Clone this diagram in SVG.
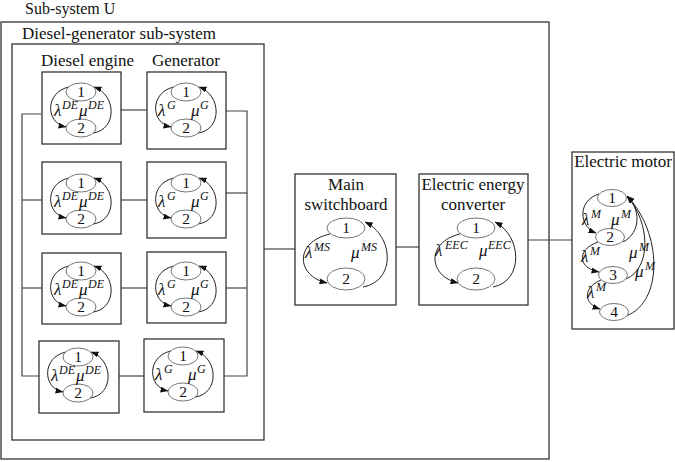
<svg xmlns="http://www.w3.org/2000/svg" xmlns:xlink="http://www.w3.org/1999/xlink" width="675" height="462" viewBox="0 0 675 462">
<style>
.box{fill:none;stroke:#333;stroke-width:1.3}
.st{fill:#fff;stroke:#777;stroke-width:1}
.arc{fill:none;stroke:#222;stroke-width:1}
.ln{fill:none;stroke:#444;stroke-width:1.2}
text{font-family:"Liberation Serif","Times New Roman",serif;fill:#111}
.hd{font-size:17px}
.n{font-size:15.5px;text-anchor:middle}
.g{font-size:17px;font-style:italic}
.sp{font-size:12px;font-style:italic}
</style>
<defs>
<marker id="ah" markerUnits="userSpaceOnUse" markerWidth="8" markerHeight="6" refX="7.5" refY="3" orient="auto">
<path d="M0,0 L8,3 L0,6 z" fill="#111"/>
</marker>
<g id="sm">
<path class="arc" d="M-12,-5 C-36,0 -36,31 -15,35" marker-end="url(#ah)"/>
<path class="arc" d="M12,41 C36,38 36,3 13,-5" marker-end="url(#ah)"/>
<ellipse class="st" cx="0" cy="0" rx="15" ry="9"/>
<ellipse class="st" cx="0" cy="36" rx="15" ry="9"/>
</g>
</defs>
<rect width="675" height="462" fill="#fff"/>

<g id="subsystem-u">
<rect class="box" x="1" y="22" width="548" height="437"/>
<text class="hd" x="25" y="14" style="font-size:16px">Sub-system U</text>
</g>
<g id="dg-subsystem">
<rect class="box" x="12" y="44" width="252" height="396"/>
<text class="hd" x="22" y="39">Diesel-generator sub-system</text>
<text class="hd" x="41" y="66">Diesel engine</text>
<text class="hd" x="152" y="66">Generator</text>
</g>

<g id="connectors">
<polyline class="ln" points="41,114 22,114 22,376 39,376"/>
<line class="ln" x1="22" y1="200" x2="42" y2="200"/>
<line class="ln" x1="22" y1="288" x2="42" y2="288"/>
<line class="ln" x1="121" y1="110" x2="147" y2="110"/>
<line class="ln" x1="121" y1="200" x2="147" y2="200"/>
<line class="ln" x1="121" y1="288" x2="147" y2="288"/>
<line class="ln" x1="119" y1="376" x2="144" y2="376"/>
<polyline class="ln" points="226,111 247,111 247,376 224,376"/>
<line class="ln" x1="226" y1="193" x2="247" y2="193"/>
<line class="ln" x1="226" y1="288" x2="247" y2="288"/>
<line class="ln" x1="264" y1="249" x2="295" y2="249"/>
<line class="ln" x1="396" y1="247" x2="419" y2="247"/>
<line class="ln" x1="528" y1="240" x2="572" y2="240"/>
</g>

<g id="de1">
<rect class="box" x="42" y="72" width="79" height="72"/>
<use xlink:href="#sm" x="81" y="92"/>
<text class="n" x="81" y="97">1</text><text class="n" x="81" y="133">2</text>
<text class="g" x="54" y="116">λ</text><text class="sp" x="62" y="109">DE</text>
<text class="g" x="79" y="116">μ</text><text class="sp" x="88" y="109">DE</text>
</g>
<g id="g1">
<rect class="box" x="147" y="72" width="79" height="77"/>
<use xlink:href="#sm" x="186" y="92"/>
<text class="n" x="186" y="97">1</text><text class="n" x="186" y="133">2</text>
<text class="g" x="158" y="116">λ</text><text class="sp" x="167" y="109">G</text>
<text class="g" x="191" y="116">μ</text><text class="sp" x="200" y="109">G</text>
</g>

<g id="de2">
<rect class="box" x="42" y="162" width="79" height="72"/>
<use xlink:href="#sm" x="81" y="183"/>
<text class="n" x="81" y="188">1</text><text class="n" x="81" y="224">2</text>
<text class="g" x="54" y="207">λ</text><text class="sp" x="62" y="200">DE</text>
<text class="g" x="79" y="207">μ</text><text class="sp" x="88" y="200">DE</text>
</g>
<g id="g2">
<rect class="box" x="147" y="162" width="79" height="76"/>
<use xlink:href="#sm" x="186" y="183"/>
<text class="n" x="186" y="188">1</text><text class="n" x="186" y="224">2</text>
<text class="g" x="158" y="207">λ</text><text class="sp" x="167" y="200">G</text>
<text class="g" x="191" y="207">μ</text><text class="sp" x="200" y="200">G</text>
</g>

<g id="de3">
<rect class="box" x="42" y="253" width="79" height="71"/>
<use xlink:href="#sm" x="81" y="271"/>
<text class="n" x="81" y="276">1</text><text class="n" x="81" y="312">2</text>
<text class="g" x="54" y="295">λ</text><text class="sp" x="62" y="288">DE</text>
<text class="g" x="79" y="295">μ</text><text class="sp" x="88" y="288">DE</text>
</g>
<g id="g3">
<rect class="box" x="147" y="252" width="79" height="71"/>
<use xlink:href="#sm" x="186" y="271"/>
<text class="n" x="186" y="276">1</text><text class="n" x="186" y="312">2</text>
<text class="g" x="158" y="295">λ</text><text class="sp" x="167" y="288">G</text>
<text class="g" x="191" y="295">μ</text><text class="sp" x="200" y="288">G</text>
</g>

<g id="de4">
<rect class="box" x="39" y="341" width="80" height="72"/>
<use xlink:href="#sm" x="78" y="357"/>
<text class="n" x="78" y="362">1</text><text class="n" x="78" y="398">2</text>
<text class="g" x="51" y="381">λ</text><text class="sp" x="59" y="374">DE</text>
<text class="g" x="76" y="381">μ</text><text class="sp" x="85" y="374">DE</text>
</g>
<g id="g4">
<rect class="box" x="144" y="339" width="80" height="73"/>
<use xlink:href="#sm" x="183" y="356"/>
<text class="n" x="183" y="361">1</text><text class="n" x="183" y="397">2</text>
<text class="g" x="155" y="380">λ</text><text class="sp" x="164" y="373">G</text>
<text class="g" x="188" y="380">μ</text><text class="sp" x="197" y="373">G</text>
</g>

<g id="main-switchboard">
<rect class="box" x="295" y="174" width="101" height="131"/>
<text class="hd" x="346" y="190" text-anchor="middle">Main</text>
<text class="hd" x="346" y="210" text-anchor="middle">switchboard</text>
<path class="arc" d="M330,234 C294,242 296,276 327,283" marker-end="url(#ah)"/>
<path class="arc" d="M363,287 C396,281 394,236 365,222" marker-end="url(#ah)"/>
<ellipse class="st" cx="346" cy="228" rx="19" ry="10"/>
<ellipse class="st" cx="346" cy="279" rx="19" ry="11"/>
<text class="n" x="346" y="233">1</text><text class="n" x="346" y="284">2</text>
<text class="g" x="305" y="258">λ</text><text class="sp" x="314" y="251">MS</text>
<text class="g" x="351" y="258">μ</text><text class="sp" x="361" y="251">MS</text>
</g>

<g id="eec">
<rect class="box" x="419" y="174" width="109" height="131"/>
<text class="hd" x="473" y="190" text-anchor="middle">Electric energy</text>
<text class="hd" x="473" y="210" text-anchor="middle">converter</text>
<path class="arc" d="M460,234 C426,242 428,276 458,283" marker-end="url(#ah)"/>
<path class="arc" d="M493,287 C524,281 522,236 495,222" marker-end="url(#ah)"/>
<ellipse class="st" cx="476" cy="228" rx="19" ry="10"/>
<ellipse class="st" cx="476" cy="279" rx="19" ry="11"/>
<text class="n" x="476" y="233">1</text><text class="n" x="476" y="284">2</text>
<text class="g" x="435" y="256">λ</text><text class="sp" x="445" y="249">EEC</text>
<text class="g" x="479" y="256">μ</text><text class="sp" x="488" y="249">EEC</text>
</g>

<g id="electric-motor">
<rect class="box" x="572" y="152" width="102" height="177"/>
<text class="hd" x="623" y="167" text-anchor="middle">Electric motor</text>
<path class="arc" d="M599,194 C578,200 578,226 596,233" marker-end="url(#ah)"/>
<path class="arc" d="M598,242 C576,250 578,268 599,272" marker-end="url(#ah)"/>
<path class="arc" d="M601,280 C582,288 584,304 600,309" marker-end="url(#ah)"/>
<path class="arc" d="M623,242 C642,232 640,208 627,196" marker-end="url(#ah)"/>
<path class="arc" d="M626,279 C652,268 650,222 627,196" marker-end="url(#ah)"/>
<path class="arc" d="M626,316 C664,302 662,232 627,196" marker-end="url(#ah)"/>
<ellipse class="st" cx="612" cy="198" rx="14.5" ry="8.5"/>
<ellipse class="st" cx="610" cy="237" rx="14.5" ry="8.5"/>
<ellipse class="st" cx="613" cy="275" rx="14.5" ry="8.5"/>
<ellipse class="st" cx="614" cy="312" rx="14.5" ry="8.5"/>
<text class="n" x="612" y="203">1</text>
<text class="n" x="610" y="242">2</text>
<text class="n" x="613" y="280">3</text>
<text class="n" x="614" y="317">4</text>
<text class="g" x="582" y="225">λ</text><text class="sp" x="591" y="218">M</text>
<text class="g" x="611" y="225">μ</text><text class="sp" x="621" y="218">M</text>
<text class="g" x="581" y="262">λ</text><text class="sp" x="590" y="255">M</text>
<text class="g" x="629" y="258">μ</text><text class="sp" x="639" y="251">M</text>
<text class="g" x="587" y="298">λ</text><text class="sp" x="596" y="291">M</text>
<text class="g" x="635" y="277">μ</text><text class="sp" x="645" y="270">M</text>
</g>
</svg>
